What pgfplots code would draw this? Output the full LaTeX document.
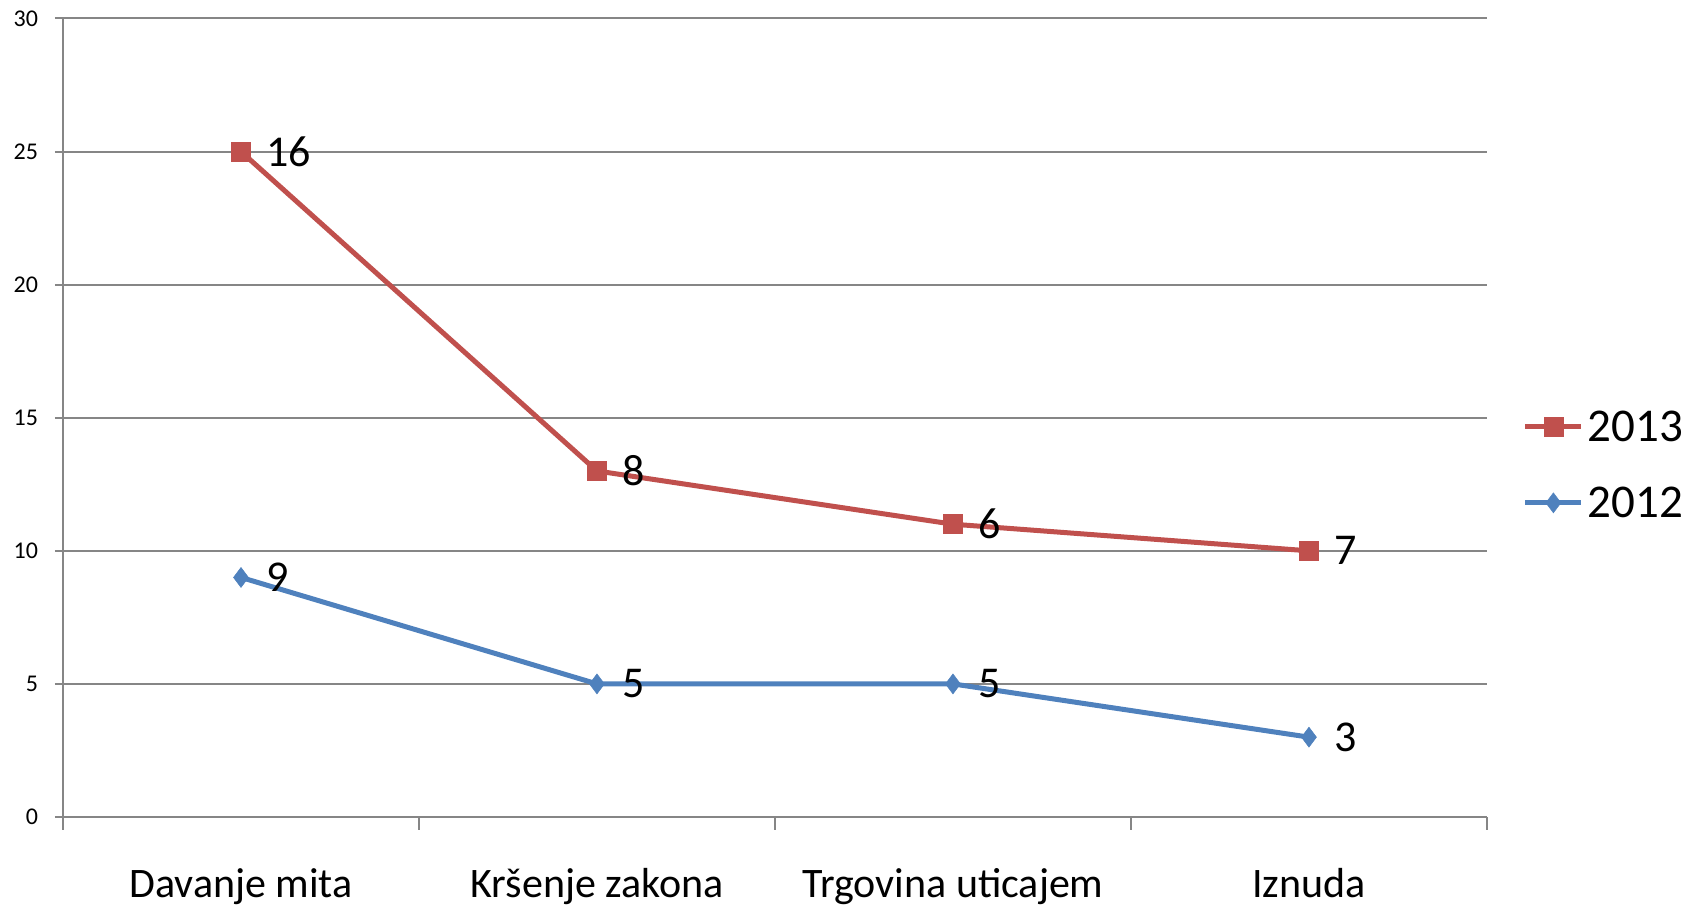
\documentclass[border=0pt]{standalone}
\usepackage{fontspec}
\setmainfont{Carlito}
\usepackage{pgfplots}
\pgfplotsset{compat=1.18}
\definecolor{red13}{HTML}{C0504D}
\definecolor{blue12}{HTML}{4F81BD}
\definecolor{gridgray}{HTML}{868686}
\begin{document}
\begin{tikzpicture}
\begin{axis}[
  at={(63pt,92pt)}, anchor=south west,
  scale only axis, width=1424pt, height=798.5pt,
  xmin=-0.5, xmax=3.5, ymin=0, ymax=30,
  ytick={0,5,10,15,20,25,30},
  xtick={0,1,2,3},
  xticklabels={Davanje mita, Kršenje zakona, Trgovina uticajem, Iznuda},
  minor xtick={-0.5,0.5,1.5,2.5,3.5},
  axis x line*=bottom, axis y line*=left,
  axis line style={gridgray, line width=2pt, -},
  ymajorgrids,
  major grid style={gridgray, line width=2pt},
  tick style={gridgray, line width=2pt},
  every major x tick/.style={draw=none},
  tick align=outside,
  major tick length=8pt,
  minor tick length=13pt,
  clip=false,
  /pgf/number format/assume math mode=true,
  yticklabel style={font=\fontsize{24}{28}\selectfont, anchor=east, xshift=-13.5pt},
  xticklabel style={font=\fontsize{42}{50}\selectfont, anchor=base, yshift=-73pt},
  stack plots=y,
  point meta=explicit symbolic,
  nodes near coords,
  nodes near coords style={anchor=west, inner sep=0pt, xshift=25pt, font=\fontsize{44}{52}\selectfont, text=black},
  reverse legend,
  legend cell align=left,
  legend style={draw=none, fill=none, at={(1.023,0.441)}, anchor=west,
    font=\fontsize{47}{56}\selectfont, row sep=44pt, nodes={inner sep=0pt}, column sep=4pt},
  legend image code/.code={\draw[mark repeat=2, mark phase=2, #1] plot coordinates {(0pt,0pt) (28pt,0pt) (56pt,0pt)};},
]
\addplot[blue12, line width=5pt, mark=diamond*, mark size=10pt, mark options={line width=0.5pt, fill=blue12}]
  coordinates {(0,9) [9] (1,5) [5] (2,5) [5] (3,3) [3]};
\addlegendentry{2012}
\addplot[red13, line width=5pt, mark=square*, mark size=9.5pt, mark options={line width=0.5pt, fill=red13}]
  coordinates {(0,16) [16] (1,8) [8] (2,6) [6] (3,7) [7]};
\addlegendentry{2013}
\end{axis}
\pgfresetboundingbox
\useasboundingbox (0,0) rectangle (1702pt,909pt);
\end{tikzpicture}
\end{document}
